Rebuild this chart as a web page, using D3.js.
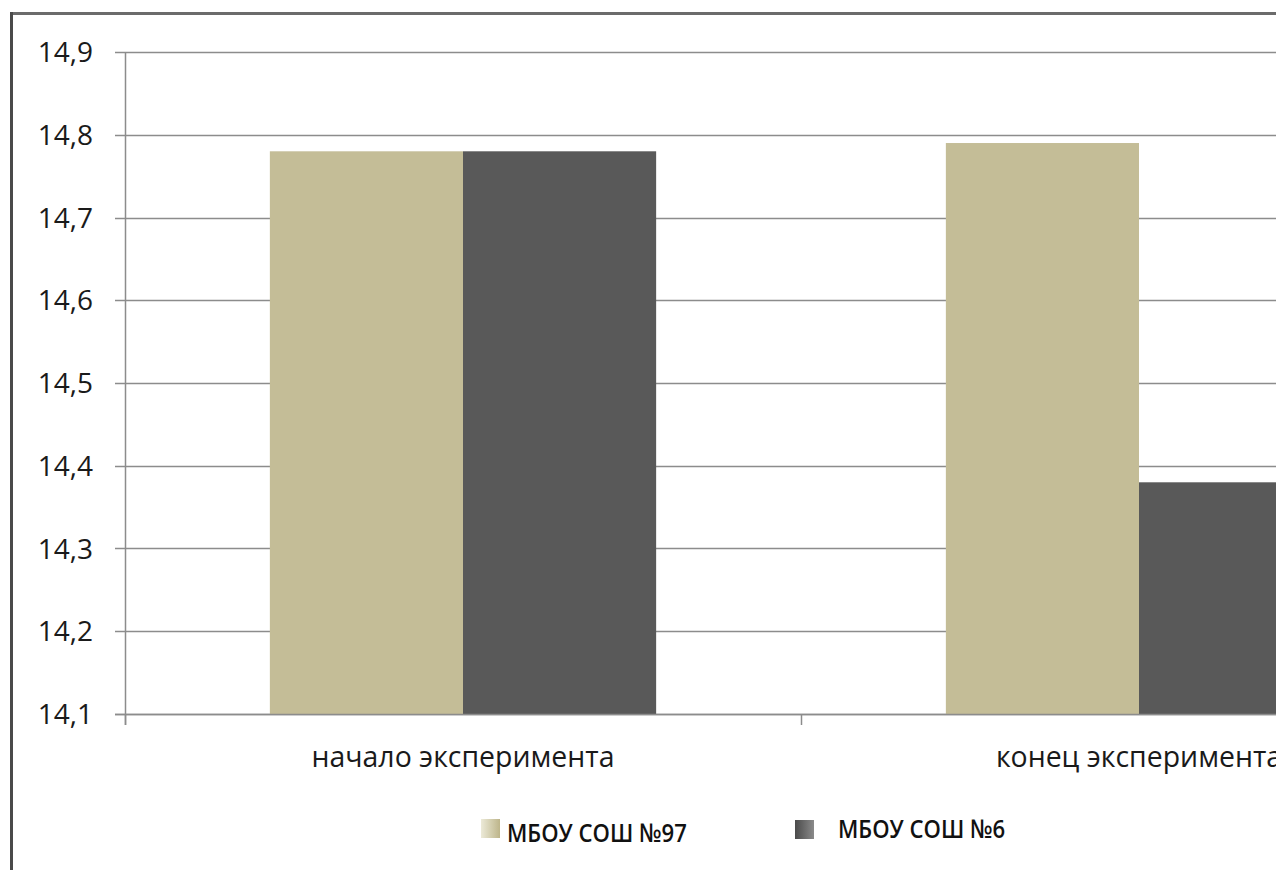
<!DOCTYPE html>
<html><head><meta charset="utf-8">
<script src="https://cdn.jsdelivr.net/npm/d3@7"></script>
<style>html,body{margin:0;padding:0;background:#fff;overflow:hidden}</style>
</head><body>
<svg id="c" width="1276" height="870"></svg>
<script>
const categories = ["начало эксперимента", "конец эксперимента"];
const seriesNames = ["МБОУ СОШ №97", "МБОУ СОШ №6"];
const school97 = [14.78, 14.79];
const school6 = [14.78, 14.38];
const yTicks = [14.1, 14.2, 14.3, 14.4, 14.5, 14.6, 14.7, 14.8, 14.9];
const colors = ["#C4BD97", "#595959"];

const svg = d3.select("#c");
const font = "'Open Sans', 'DejaVu Sans', sans-serif";

// outer frame (top and left)
svg.append("line").attr("x1",11.5).attr("x2",1276).attr("y1",13.5).attr("y2",13.5).attr("stroke","#6b6b6b").attr("stroke-width",3);
svg.append("line").attr("x1",11.5).attr("x2",11.5).attr("y1",12).attr("y2",870).attr("stroke","#4a4a4a").attr("stroke-width",3);

const plotLeft = 125, band = 676;
const y = d3.scaleLinear().domain([14.1, 14.9]).range([714, 52]);
const x0 = d3.scaleBand().domain(categories).range([plotLeft, plotLeft + band*categories.length]).padding(0);
const x1 = d3.scaleBand().domain(seriesNames).range([0, x0.bandwidth()]).paddingInner(0).paddingOuter(0.75);

// gridlines
svg.append("g").selectAll("line").data(yTicks).join("line")
  .attr("x1", 115).attr("x2", 1276)
  .attr("y1", d => Math.round(y(d)) + 0.5).attr("y2", d => Math.round(y(d)) + 0.5)
  .attr("stroke", "#8c8c8c").attr("stroke-width", 1.5);

// bars
const data = categories.map((c,i) => ({cat:c, vals:[school97[i], school6[i]]}));
const gBars = svg.append("g");
data.forEach(d => {
  d.vals.forEach((v, j) => {
    gBars.append("rect")
      .attr("x", x0(d.cat) + x1(seriesNames[j]))
      .attr("y", y(v))
      .attr("width", x1.bandwidth())
      .attr("height", y(14.1) - y(v))
      .attr("fill", colors[j]);
  });
});

// y axis line
svg.append("line").attr("x1",125.5).attr("x2",125.5).attr("y1",52).attr("y2",725).attr("stroke","#8c8c8c").attr("stroke-width",1.5);
// bottom axis line
svg.append("line").attr("x1",115).attr("x2",1276).attr("y1",Math.round(y(14.1))+0.5).attr("y2",Math.round(y(14.1))+0.5).attr("stroke","#8c8c8c").attr("stroke-width",1.5);
// category ticks
const catTicks = categories.map((c,i)=>x0(c)).concat([x0.range()[1]]);
svg.append("g").selectAll("line").data(catTicks).join("line")
  .attr("x1", d => d + 0.5).attr("x2", d => d + 0.5)
  .attr("y1", 714).attr("y2", 725)
  .attr("stroke", "#8c8c8c").attr("stroke-width", 1.5);

// y tick labels
svg.append("g").selectAll("text").data(yTicks).join("text")
  .attr("x", 93).attr("y", d => y(d) + 10)
  .attr("text-anchor", "end")
  .attr("font-family", font).attr("font-size", 28).attr("fill", "#1a1a1a")
  .text(d => d3.format(".1f")(d).replace(".", ","));

// category labels
const catLabels = svg.append("g").selectAll("text").data(categories).join("text")
  .attr("x", d => x0(d) + x0.bandwidth()/2)
  .attr("y", 767)
  .attr("text-anchor", "middle")
  .attr("font-family", font).attr("font-size", 100).attr("fill", "#1a1a1a")
  .text(d => d);
const w0 = catLabels.node().getComputedTextLength();
const catSize = 100 * 303 / w0;
catLabels.attr("font-size", catSize);

// legend
const defs = svg.append("defs");
const g1 = defs.append("linearGradient").attr("id","lg0");
g1.append("stop").attr("offset","0%").attr("stop-color","#ecead8");
g1.append("stop").attr("offset","100%").attr("stop-color","#bdb58a");
const g2 = defs.append("linearGradient").attr("id","lg1");
g2.append("stop").attr("offset","0%").attr("stop-color","#4a4a4a");
g2.append("stop").attr("offset","100%").attr("stop-color","#8a8a8a");

const legendX = [481, 795];
const legendY = [819, 820];
const legendTextX = [507, 838];
const legendBase = [842, 838];
const lg = svg.append("g");
seriesNames.forEach((s, i) => {
  lg.append("rect").attr("x", legendX[i]).attr("y", legendY[i]).attr("width", 19).attr("height", 19).attr("fill", `url(#lg${i})`);
});
const lt = lg.selectAll("text.leg").data(seriesNames).join("text")
  .attr("class","leg")
  .attr("font-family", font).attr("font-weight", 600).attr("font-size", 26).attr("fill", "#111")
  .text(d => d);
const lw = lt.nodes()[0].getComputedTextLength();
const sx = 180 / lw;
lt.attr("transform", (d,i) => `translate(${legendTextX[i]},${legendBase[i]}) scale(${sx},1)`);
</script>
</body></html>
